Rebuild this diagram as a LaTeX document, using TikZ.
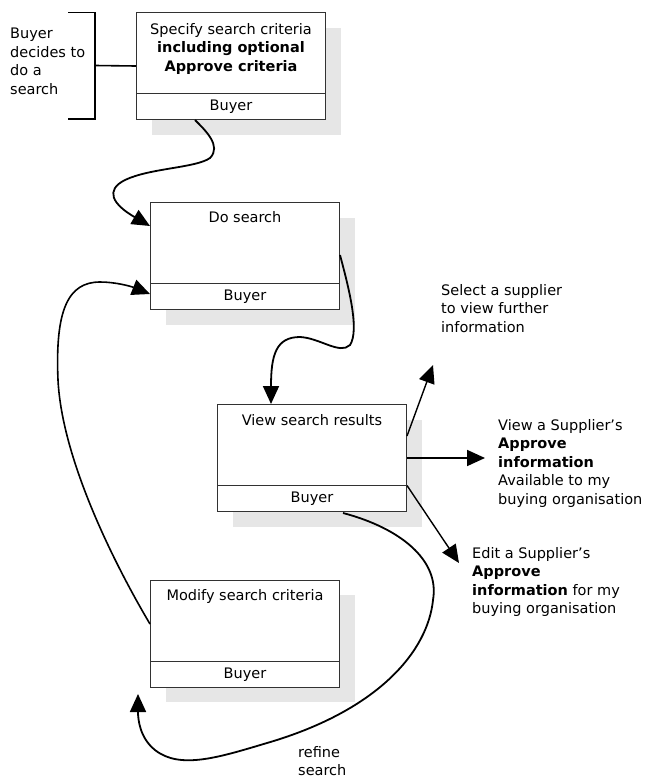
\documentclass[tikz,border=0pt]{standalone}
\usepackage{fontspec}
\setmainfont{DejaVu Sans}
\usetikzlibrary{arrows.meta,calc}
\definecolor{shadowgray}{RGB}{230,230,230}
\definecolor{boxline}{RGB}{50,50,50}
\begin{document}
\begin{tikzpicture}[x=1pt,y=-1pt,
  box/.style={draw=boxline, line width=1pt, fill=white, minimum width=189pt, minimum height=107pt, anchor=north west, inner sep=0pt},
  shadowbox/.style={fill=shadowgray, draw=none, minimum width=189pt, minimum height=107pt, anchor=north west, inner sep=0pt},
  lbl/.style={inner sep=0pt, font=\fontsize{14.5}{18.5}\selectfont},
  title/.style={lbl, anchor=north, align=center},
  side/.style={lbl, anchor=north west, align=left},
  divider/.style={draw=boxline, line width=1pt},
  conn/.style={line width=1.8pt, black},
  tip/.style={-{Triangle[length=18pt,width=16pt]}}
]
\useasboundingbox (0,0) rectangle (649,782);

% shadows
\node[shadowbox] (s1) at (152,28) {};
\node[shadowbox] (s2) at (166,218) {};
\node[shadowbox] (s3) at (233,420) {};
\node[shadowbox] (s4) at (166,595) {};

% boxes
\node[box] (b1) at (136,12) {};
\node[box] (b2) at (150,202) {};
\node[box] (b3) at (217,404) {};
\node[box] (b4) at (150,580) {};

\foreach \b in {b1,b2,b3,b4}{
  \draw[divider] ($(\b.south west)+(0,-26.5)$) -- ($(\b.south east)+(0,-26.5)$);
  \node[lbl, anchor=center] (\b buyer) at ($(\b.south)+(0,-13)$) {Buyer};
}

\node[title] (t1) at ($(b1.north)+(0,11)$) {Specify search criteria\\\textbf{including optional}\\\textbf{Approve criteria}};
\node[title] (t2) at ($(b2.north)+(0,9)$) {Do search};
\node[title] (t3) at ($(b3.north)+(0,10)$) {View search results};
\node[title] (t4) at ($(b4.north)+(0,9)$) {Modify search criteria};

% bracket
\coordinate (bm) at (95,65.5);
\draw[conn, line width=1.6pt] (68,12.5) -- (95,12.5) -- (95,119) -- (68,119);
\draw[conn, line width=1.6pt] (bm) -- (b1.west);
\node[side] (lb) at (10,28) {Buyer\\decides to\\do a\\search};

% side labels
\node[side] (lsel) at (441,284) {Select a supplier\\to view further\\information};
\node[side] (lview) at (498,419) {View a Supplier’s\\\textbf{Approve}\\\textbf{information}\\Available to my\\buying organisation};
\node[side] (ledit) at (472,547) {Edit a Supplier’s\\\textbf{Approve}\\\textbf{information} for my\\buying organisation};
\node[side] (lref) at (298,746) {refine\\search};

% free ends
\coordinate (esel) at (433,365);
\coordinate (eview) at (485,458);
\coordinate (eedit) at (459,563);
\coordinate (eref) at ($(b4.south west)+(-12,6)$);

% connectors
\draw[conn, tip] ($(b1.south west)+(59,0)$) .. controls (205,130) and (222,146) .. (210,158)
  .. controls (196,168) and (150,168) .. (125,180)
  .. controls (105,190) and (112,204) .. ($(b2.north west)+(0,24)$);

\draw[conn, tip] ($(b2.north east)+(0,53)$) .. controls (348,285) and (360,330) .. (350,345)
  .. controls (340,355) and (320,338) .. (300,337)
  .. controls (276,337) and (271,355) .. ($(b3.north west)+(54,0)$);

\draw[conn, line width=1.4pt, tip] ($(b3.north east)+(0,32)$) -- (esel);
\draw[conn, tip] ($(b3.north east)+(0,54)$) -- (eview);
\draw[conn, line width=1.4pt, tip] ($(b3.south east)+(0,-26.5)$) -- (eedit);

\draw[conn, tip] ($(b3.south west)+(126,1)$) .. controls (400,528) and (440,560) .. (433,600)
  .. controls (428,650) and (380,710) .. (267,743)
  .. controls (220,757) and (180,770) .. (155,750)
  .. controls (140,738) and (138,720) .. (eref);

\draw[conn, line width=1.6pt, tip] ($(b4.north west)+(0,44)$) .. controls (115,565) and (62,460) .. (58,380)
  .. controls (55,310) and (68,282) .. (100,282)
  .. controls (115,282) and (130,286) .. ($(b2.south west)+(0,-16)$);
\end{tikzpicture}
\end{document}
